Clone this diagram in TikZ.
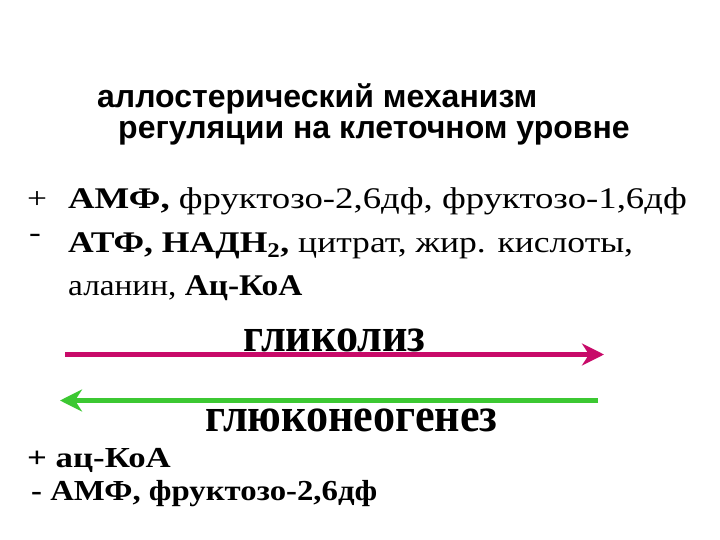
\documentclass[tikz,border=0pt]{standalone}
\usepackage{fontspec}
\usepackage{graphicx}
\setmainfont{Liberation Serif}
\newfontfamily\titlefont{Liberation Sans}
\usetikzlibrary{arrows.meta}
\definecolor{glycol}{RGB}{200,10,105}
\definecolor{gluconeo}{RGB}{60,200,50}
\tikzset{
  px/.style={x=1pt,y=-1pt},
  titletext/.style={anchor=base west, inner sep=0pt, font=\titlefont\bfseries\fontsize{32}{32}\selectfont},
  bodytext/.style={anchor=base west, inner sep=0pt, font=\fontsize{30}{30}\selectfont},
  lowtext/.style={anchor=base west, inner sep=0pt, font=\bfseries\fontsize{29}{29}\selectfont},
  pathtext/.style={anchor=base west, inner sep=0pt, font=\bfseries\fontsize{48}{48}\selectfont},
  pathway/.style={line width=5.5pt, -{Stealth[length=22pt,width=22pt,inset=7pt]}}
}
\newcommand{\widen}[2]{\scalebox{#1}[1]{#2}}
\begin{document}
\begin{tikzpicture}[px]
\useasboundingbox (0,0) rectangle (720,540);
\fill[white] (0,0) rectangle (720,540);
% title
\node[titletext] (t1) at (97,108) {аллостерический механизм};
\node[titletext] (t2) at (118,139) {регуляции на клеточном уровне};
% activators / inhibitors of glycolysis
\node[bodytext] (p1) at (27,208) {\widen{1.18}{+}};
\node[bodytext] (l1) at (68,208) {\widen{1.225}{\textbf{АМФ,} фруктозо-2,6дф, фруктозо-1,6дф}};
\node[bodytext] (m1) at (29,243) {\widen{1.18}{-}};
\node[bodytext] (l2) at (68,252) {\widen{1.185}{\textbf{АТФ, НАДН\textsubscript{2},} цитрат, жир. кислоты,}};
\node[bodytext] (l3) at (68,295) {\widen{1.11}{аланин, \textbf{Ац-КоА}}};
% pathways
\node[pathtext] (gly) at (243,351) {\widen{0.92}{гликолиз}};
\coordinate (g1s) at (65,354.5);
\coordinate (g1e) at (604,354.5);
\draw[pathway, glycol] (g1s) -- (g1e);
\coordinate (g2s) at (598,400.5);
\coordinate (g2e) at (60,400.5);
\draw[pathway, gluconeo] (g2s) -- (g2e);
\node[pathtext] (gng) at (205,431) {\widen{0.92}{глюконеогенез}};
% regulation of gluconeogenesis
\node[lowtext] (b1) at (27,467) {\widen{1.2}{+ ац-КоА}};
\node[lowtext] (b2) at (31,500) {\widen{1.13}{- АМФ, фруктозо-2,6дф}};
\end{tikzpicture}
\end{document}
